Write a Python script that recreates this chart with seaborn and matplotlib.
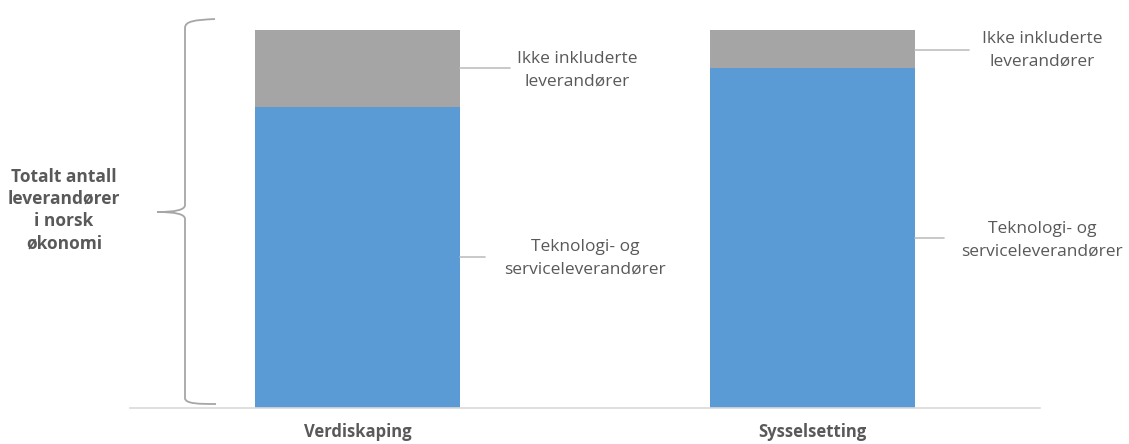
import numpy as np
import pandas as pd
import seaborn as sns
import matplotlib.pyplot as plt
from matplotlib.path import Path
from matplotlib.patches import PathPatch

kategorier = ["Verdiskaping", "Sysselsetting"]
teknologi = [79.6, 90.0]
ikke_inkl = [20.4, 10.0]
serie_navn = ["Teknologi- og\nserviceleverandører", "Ikke inkluderte\nleverandører"]
brace_tekst = "Totalt antall\nleverandører\ni norsk\nøkonomi"

df = pd.DataFrame({"kategori": kategorier, "teknologi": teknologi, "ikke": ikke_inkl})
df["total"] = df["teknologi"] + df["ikke"]

sns.set_style("white")
plt.rcParams["font.family"] = ["Open Sans", "DejaVu Sans"]

W, H = 1129, 444
fig = plt.figure(figsize=(W / 100, H / 100), dpi=100)
ax = fig.add_axes([130 / W, 1 - 408 / H, 910 / W, (408 - 20) / H])

blaa = "#5B9BD5"
graa = "#A5A5A5"
tekst = "#595959"

sns.barplot(data=df, x="kategori", y="total", color=graa, width=0.45,
            saturation=1, ax=ax, edgecolor="none")
sns.barplot(data=df, x="kategori", y="teknologi", color=blaa, width=0.45,
            saturation=1, ax=ax, edgecolor="none")

ax.set_xlim(-0.5, 1.5)
ax.set_ylim(0, 100 * 388 / 378)
ax.set_yticks([])
ax.set_xlabel("")
ax.set_ylabel("")
ax.set_xticks([0, 1])
ax.set_xticklabels(kategorier, fontsize=12, fontweight="bold", color=tekst)
ax.tick_params(axis="x", length=0, pad=11)
for s in ["top", "right", "left"]:
    ax.spines[s].set_visible(False)
ax.spines["bottom"].set_color("#D9D9D9")
ax.spines["bottom"].set_linewidth(1.2)

# etiketter med streker: (strek fra, strek til, tekst x, strek y, tekst y)
etiketter = [
    [(0.225, 0.335, 0.482, 89.9, 89.4, serie_navn[1]),
     (0.225, 0.28, 0.50, 40.0, 39.7, serie_navn[0])],
    [(1.225, 1.345, 1.505, 94.7, 94.7, serie_navn[1]),
     (1.225, 1.29, 1.505, 44.9, 44.4, serie_navn[0])],
]
for rad in etiketter:
    for x0, x1, xt, yl, yt, navn in rad:
        ax.plot([x0, x1], [yl, yl], color="#BFBFBF", lw=1.2, clip_on=False)
        ax.text(xt, yt, navn, ha="center", va="center", fontsize=12.5,
                color=tekst, linespacing=1.55, clip_on=False)

# klammeparentes i pikselkoordinater
ov = fig.add_axes([0, 0, 1, 1])
ov.set_xlim(0, W)
ov.set_ylim(H, 0)
ov.axis("off")
verts = [(215, 19), (195, 20), (185, 21), (185, 28),
         (185, 205),
         (185, 210), (175, 212), (157, 212),
         (175, 212), (185, 214), (185, 219),
         (185, 398),
         (185, 404), (200, 404), (216, 404)]
codes = [Path.MOVETO, Path.CURVE4, Path.CURVE4, Path.CURVE4,
         Path.LINETO,
         Path.CURVE4, Path.CURVE4, Path.CURVE4,
         Path.CURVE4, Path.CURVE4, Path.CURVE4,
         Path.LINETO,
         Path.CURVE4, Path.CURVE4, Path.CURVE4]
ov.add_patch(PathPatch(Path(verts, codes), fill=False, edgecolor="#A6A6A6", lw=1.3))
ov.text(64, 210, brace_tekst, ha="center", va="center", fontsize=12.5,
        fontweight="bold", color=tekst, linespacing=1.3)

fig.savefig("out.png", dpi=100)
